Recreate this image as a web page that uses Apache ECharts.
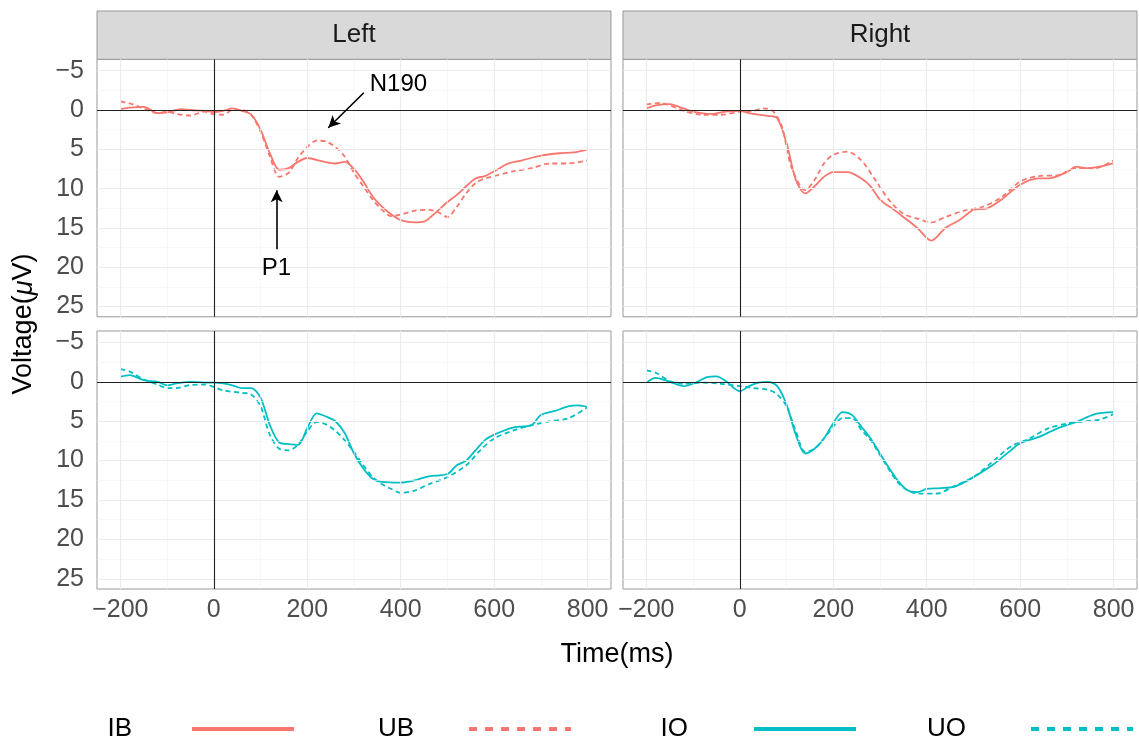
<!DOCTYPE html>
<html><head><meta charset="utf-8">
<script src="https://cdn.jsdelivr.net/npm/echarts@6/dist/echarts.min.js"></script>
<style>html,body{margin:0;padding:0;background:#fff}#c{width:1139px;height:742px}</style>
</head><body><div id="c"></div><script>
// ---- data (time ms, voltage µV) ----
const panels = ['Left', 'Right'];
const yTicks = [-5, 0, 5, 10, 15, 20, 25];
const xTicks = [-200, 0, 200, 400, 600, 800];
const yMinor = [-2.5, 2.5, 7.5, 12.5, 17.5, 22.5];
const xMinor = [-100, 100, 300, 500, 700];

const leftIB = [[-200,-0.1],[-180,-0.3],[-150,-0.4],[-120,0.4],[-100,0.3],[-70,-0.1],[-50,0],[-20,0.1],[0,0.25],[20,0.1],[40,-0.2],[60,0.1],[80,0.6],[100,2.5],[120,5.5],[140,7.6],[160,7.4],[180,6.6],[200,6.1],[230,6.5],[260,6.8],[280,6.6],[300,7.5],[320,9.1],[340,11],[360,12.3],[380,13.3],[400,14],[430,14.3],[450,14.2],[470,13.3],[500,11.7],[520,10.8],[540,9.7],[560,8.7],[580,8.4],[600,7.8],[630,6.8],[660,6.4],[700,5.8],[740,5.5],[770,5.4],[800,5]];
const leftUB = [[-200,-1.1],[-180,-0.85],[-150,-0.2],[-120,0.4],[-100,0.2],[-80,0.5],[-50,0.7],[-20,0.2],[0,0.55],[20,0.6],[40,0],[60,0],[80,0.6],[100,2.75],[120,5.9],[140,8.5],[160,8],[180,6.1],[200,4.7],[220,3.9],[240,4],[260,4.7],[280,5.9],[300,8],[320,9.7],[340,11.4],[360,12.7],[380,13.5],[400,13.3],[430,12.8],[460,12.7],[480,13],[500,13.6],[520,12.3],[540,10.6],[560,9.3],[580,8.7],[600,8.4],[640,7.8],[680,7.4],[720,6.8],[760,6.8],[800,6.4]];
const rightIB = [[-200,-0.2],[-180,-0.6],[-150,-0.75],[-130,-0.4],[-100,0.2],[-60,0.5],[-30,0.2],[0,0.1],[20,0.4],[40,0.6],[60,0.75],[80,1.05],[100,4.2],[120,8.9],[140,10.6],[160,9.7],[180,8.5],[200,7.9],[230,7.9],[260,8.7],[280,9.7],[300,11.4],[330,12.7],[350,13.6],[380,15],[410,16.6],[440,15],[470,14],[500,12.7],[530,12.5],[560,11.4],[600,9.5],[640,8.7],[660,8.7],[700,7.9],[720,7.2],[740,7.4],[770,7.2],[800,6.8]];
const rightUB = [[-200,-0.7],[-170,-0.9],[-150,-0.6],[-120,0.1],[-80,0.6],[-40,0.6],[0,0.2],[30,0.1],[50,-0.2],[70,0.1],[90,2.1],[110,7.2],[140,10.2],[160,8.9],[180,6.8],[200,5.7],[230,5.3],[260,6.4],[290,8.9],[320,11.5],[350,13.2],[380,13.8],[410,14.3],[440,13.6],[480,12.8],[520,12.3],[560,11.1],[600,9.1],[640,8.4],[680,8.3],[720,7.4],[760,7.4],[800,6.4]];
const leftIO = [[-200,-0.65],[-180,-0.85],[-150,-0.2],[-120,0],[-100,0.45],[-80,0.2],[-50,0],[-20,0.1],[0,0.1],[20,0.2],[40,0.45],[60,0.8],[80,0.8],[100,2],[120,5.5],[140,7.7],[160,7.9],[180,8],[200,5.9],[220,4],[240,4.4],[260,5],[280,6.5],[300,9.1],[320,11],[340,12.3],[360,12.7],[400,12.8],[430,12.5],[460,12],[500,11.7],[520,10.6],[540,10],[560,8.7],[580,7.4],[600,6.7],[640,5.8],[680,5.5],[700,4.2],[730,3.7],[760,3.1],[780,3],[800,3.2]];
const leftUO = [[-200,-1.6],[-180,-1.3],[-150,-0.3],[-120,0.35],[-100,0.8],[-80,0.8],[-50,0.4],[-20,0.35],[0,0.65],[20,1.1],[60,1.4],[80,1.6],[100,3.1],[120,6.75],[140,8.5],[160,8.7],[180,8],[200,6.3],[220,5.1],[240,5.4],[260,6.2],[280,7.4],[300,8.9],[320,10.6],[340,12.1],[360,13],[380,13.6],[400,14.1],[430,13.8],[460,13],[500,12.1],[540,10.6],[570,8.7],[600,7.2],[640,6.2],[680,5.5],[720,5],[760,4.6],[800,3.2]];
const rightIO = [[-200,0.1],[-180,-0.5],[-150,0],[-120,0.55],[-100,0.25],[-70,-0.6],[-50,-0.7],[-30,-0.1],[0,1.2],[20,0.55],[40,0.1],[60,0],[80,0.55],[100,2.9],[120,6.75],[140,9.1],[160,8.5],[180,7.2],[200,5.25],[220,3.85],[240,4.2],[260,5.7],[280,7.2],[300,9.1],[320,11],[340,12.7],[360,13.8],[380,14],[400,13.6],[430,13.5],[460,13.3],[500,12.1],[540,10.6],[580,8.7],[600,7.8],[640,7],[680,5.9],[720,5.1],[760,4.1],[800,3.85]];
const rightUO = [[-200,-1.45],[-180,-1.15],[-150,-0.1],[-120,0.25],[-80,0.1],[-40,0.25],[0,0.55],[30,0.8],[60,1],[80,1.6],[100,3.1],[120,6.3],[140,8.9],[160,8.5],[180,7.2],[200,5.7],[220,4.6],[240,4.6],[260,6.1],[280,7.4],[300,9.3],[320,11.2],[340,12.9],[360,13.8],[380,14.2],[420,14.2],[460,13.2],[500,12.1],[540,10.2],[580,8.2],[620,7.2],[660,5.9],[700,5.3],[740,5],[770,4.8],[800,4.1]];

const n190Label = ['N190', 395, -3.2];
const n190Arrow = [[321, -2.2], [245, 2.25]];
const p1Label = ['P1', 134, 20.1];
const p1Arrow = [[134.5, 17.7], [134.5, 10.2]];

// ---- styling ----
const FONT = "'Liberation Sans', Arial, sans-serif";
const RED = '#F8766D', TEAL = '#00BFC4';
const grids = [
  {left: 97, top: 59.3, width: 514, height: 257.5},
  {left: 623, top: 59.3, width: 514, height: 257.5},
  {left: 97, top: 331, width: 514, height: 258},
  {left: 623, top: 331, width: 514, height: 258}
].map(g => Object.assign(g, {show: true, borderColor: '#999', borderWidth: 1, backgroundColor: '#fff', containLabel: false}));

const fmt = v => String(v).replace('-', '\u2212');
const xAxes = grids.map((g, i) => ({
  type: 'value', gridIndex: i, min: -250, max: 850,
  axisLine: {show: false}, splitLine: {show: false},
  axisTick: {show: i >= 2, customValues: xTicks, length: 5, lineStyle: {color: '#333'}},
  axisLabel: {show: i >= 2, customValues: xTicks, formatter: fmt, fontFamily: FONT, fontSize: 25, color: '#4D4D4D', margin: 9}
}));
const yAxes = grids.map((g, i) => ({
  type: 'value', gridIndex: i, min: -6.45, max: 26.3, inverse: true,
  axisLine: {show: false}, splitLine: {show: false},
  axisTick: {show: i % 2 === 0, customValues: yTicks, length: 5, lineStyle: {color: '#333'}},
  axisLabel: {show: i % 2 === 0, customValues: yTicks, formatter: fmt, fontFamily: FONT, fontSize: 25, color: '#4D4D4D', margin: 13}
}));

function gridLines(i) {
  const d = [];
  yTicks.forEach(v => d.push({yAxis: v, lineStyle: {color: '#EBEBEB', width: 1.1, type: 'solid'}}));
  yMinor.forEach(v => d.push({yAxis: v, lineStyle: {color: '#F3F3F3', width: 0.6, type: 'solid'}}));
  xTicks.forEach(v => d.push({xAxis: v, lineStyle: {color: '#EBEBEB', width: 1.1, type: 'solid'}}));
  xMinor.forEach(v => d.push({xAxis: v, lineStyle: {color: '#F3F3F3', width: 0.6, type: 'solid'}}));
  return {
    type: 'line', xAxisIndex: i, yAxisIndex: i, data: [], z: 1, silent: true,
    markLine: {silent: true, symbol: ['none', 'none'], label: {show: false}, animation: false, data: d}
  };
}
function zeroLines(i) {
  return {
    type: 'line', xAxisIndex: i, yAxisIndex: i, data: [], z: 2, silent: true,
    markLine: {silent: true, symbol: ['none', 'none'], label: {show: false}, animation: false,
      lineStyle: {color: '#222', width: 1.1, type: 'solid'},
      data: [{yAxis: 0}, {xAxis: 0}]}
  };
}
function curve(name, data, i, color, dashed) {
  return {
    name, type: 'line', xAxisIndex: i, yAxisIndex: i, data, smooth: 0.3, symbol: 'none', z: 3,
    lineStyle: {color, width: 1.8, type: dashed ? [5, 3.5] : 'solid'}, itemStyle: {color},
    animation: false
  };
}

const series = [];
for (let i = 0; i < 4; i++) { series.push(gridLines(i)); series.push(zeroLines(i)); }
series.push(curve('IB', leftIB, 0, RED, false));
series.push(curve('UB', leftUB, 0, RED, true));
series.push(curve('IB', rightIB, 1, RED, false));
series.push(curve('UB', rightUB, 1, RED, true));
series.push(curve('IO', leftIO, 2, TEAL, false));
series.push(curve('UO', leftUO, 2, TEAL, true));
series.push(curve('IO', rightIO, 3, TEAL, false));
series.push(curve('UO', rightUO, 3, TEAL, true));
// annotations in the Left/top panel
series.push({
  type: 'line', xAxisIndex: 0, yAxisIndex: 0, data: [], z: 4, silent: true,
  markLine: {silent: true, animation: false, symbol: ['none', 'arrow'], symbolSize: [9, 12], label: {show: false},
    lineStyle: {color: '#000', width: 1.6, type: 'solid'},
    data: [
      [{coord: n190Arrow[0]}, {coord: n190Arrow[1]}],
      [{coord: p1Arrow[0]}, {coord: p1Arrow[1]}]
    ]},
  markPoint: {silent: true, animation: false, symbol: 'circle', symbolSize: 0,
    label: {show: true, position: 'inside', fontFamily: FONT, fontSize: 24, color: '#000', formatter: p => p.name},
    data: [
      {name: n190Label[0], coord: [n190Label[1], n190Label[2]]},
      {name: p1Label[0], coord: [p1Label[1], p1Label[2]]}
    ]}
});

function legend(name, right, dashed, color, gap) {
  return {
    data: [name], right, top: 714, padding: 0, align: 'right', selectedMode: false,
    itemWidth: 102, itemHeight: 14,
    itemStyle: {color: 'rgba(0,0,0,0)', borderColor: 'rgba(0,0,0,0)', borderWidth: 0, opacity: 0},
    lineStyle: {width: 4, type: dashed ? [8, 8] : 'solid', color, opacity: 1},
    textStyle: {fontFamily: FONT, fontSize: 26, color: '#000', lineHeight: 30, padding: [0, gap - 5, 0, 0]}
  };
}

const option = {
  backgroundColor: '#fff',
  animation: false,
  grid: grids, xAxis: xAxes, yAxis: yAxes, series,
  legend: [
    legend('IB', 843, false, RED, 60),
    legend('UB', 566, true, RED, 55),
    legend('IO', 281, false, TEAL, 66),
    legend('UO', 4, true, TEAL, 65)
  ],
  graphic: [
    {type: 'rect', shape: {x: 97, y: 11, width: 514, height: 48.3}, style: {fill: '#D9D9D9', stroke: '#999', lineWidth: 1}, silent: true},
    {type: 'rect', shape: {x: 623, y: 11, width: 514, height: 48.3}, style: {fill: '#D9D9D9', stroke: '#999', lineWidth: 1}, silent: true},
    {type: 'text', x: 354, y: 35, style: {text: panels[0], fontFamily: FONT, fontSize: 26, fill: '#1A1A1A', align: 'center', verticalAlign: 'middle'}},
    {type: 'text', x: 880, y: 35, style: {text: panels[1], fontFamily: FONT, fontSize: 26, fill: '#1A1A1A', align: 'center', verticalAlign: 'middle'}},
    {type: 'text', x: 617, y: 655, style: {text: 'Time(ms)', fontFamily: FONT, fontSize: 27, fill: '#000', align: 'center', verticalAlign: 'middle'}},
    {type: 'text', x: 24, y: 324, rotation: Math.PI / 2,
      style: {text: '{a|Voltage(}{b|\u03bc}{a|V)}', align: 'center', verticalAlign: 'middle',
        rich: {a: {fontFamily: FONT, fontSize: 27, fill: '#000'}, b: {fontFamily: FONT, fontSize: 27, fontStyle: 'italic', fill: '#000'}}}}
  ]
};
const chart = echarts.init(document.getElementById('c'), null, {renderer: 'canvas'});
chart.setOption(option);
</script></body></html>
